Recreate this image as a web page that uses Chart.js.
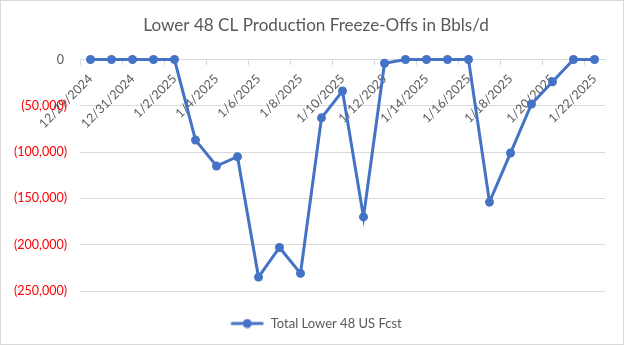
<!DOCTYPE html>
<html lang="en">
<head>
  <meta charset="UTF-8">
  <title>Lower 48 CL Production Freeze-Offs</title>
  <script src="https://cdn.jsdelivr.net/npm/chart.js@4.4.2/dist/chart.umd.min.js"></script>
  <style>
    html, body {
      margin: 0;
      padding: 0;
      background: #fff;
    }

    .frame {
      width: 624px;
      height: 345px;
      box-sizing: border-box;
      border: 1px solid #d9d9d9;
      background: #fff;
    }

    canvas {
      display: block;
    }
  </style>
</head>
<body>

  <div class="frame">
    <canvas id="freezeChart" width="622" height="343"></canvas>
  </div>

  <script>
    // daily forecast, Bbls/d (negative = barrels lost to freeze-offs)
    const fechas = [
      '12/29/2024', '12/30/2024', '12/31/2024', '1/1/2025', '1/2/2025',
      '1/3/2025', '1/4/2025', '1/5/2025', '1/6/2025', '1/7/2025',
      '1/8/2025', '1/9/2025', '1/10/2025', '1/11/2025', '1/12/2025',
      '1/13/2025', '1/14/2025', '1/15/2025', '1/16/2025', '1/17/2025',
      '1/18/2025', '1/19/2025', '1/20/2025', '1/21/2025', '1/22/2025'
    ];
    const totalLower48 = [
      0, 0, 0, 0, 0,
      -87000, -115000, -105000, -235000, -203000,
      -231000, -63000, -34000, -170000, -4000,
      0, 0, 0, 0, -154000,
      -101000, -48000, -24000, 0, 0
    ];
    const yMin = -250000;
    const yMax = 0;
    const yStep = 50000;

    const azul = '#4472c4';
    const gris = '#595959';
    const rejilla = '#d9d9d9';
    const fuente = 'Lato, Carlito, Calibri, sans-serif';

    // legend swatch: short line with a dot in the middle
    const icono = document.createElement('canvas');
    icono.width = 34;
    icono.height = 10;
    {
      const c = icono.getContext('2d');
      c.strokeStyle = azul;
      c.lineWidth = 3;
      c.lineCap = 'round';
      c.beginPath();
      c.moveTo(2, 5);
      c.lineTo(32, 5);
      c.stroke();
      c.fillStyle = azul;
      c.beginPath();
      c.arc(17, 5, 4.5, 0, Math.PI * 2);
      c.fill();
    }

    const fmt = v => {
      if (v < 0) return '(' + Math.abs(v).toLocaleString('en-US') + ')';
      return '0\u2009\u2009';
    };

    // empty axes that only reserve space on the right and under the plot
    const hueco = (size, horizontal) => ({
      type: 'linear',
      position: horizontal ? 'bottom' : 'right',
      display: true,
      grid: { display: false },
      border: { display: false },
      ticks: { display: false },
      afterFit: s => { if (horizontal) s.height = size; else s.width = size; }
    });

    new Chart(document.getElementById('freezeChart'), {
      type: 'line',
      data: {
        labels: fechas,
        datasets: [{
          label: 'Total Lower 48 US Fcst',
          data: totalLower48,
          borderColor: azul,
          backgroundColor: azul,
          borderWidth: 3,
          pointRadius: 4.5,
          pointHoverRadius: 4.5,
          pointBackgroundColor: azul,
          pointBorderWidth: 0,
          tension: 0,
          clip: false
        }]
      },
      options: {
        responsive: false,
        animation: false,
        layout: {
          padding: { left: 8, right: 0, top: 0, bottom: 4 }
        },
        plugins: {
          title: {
            display: true,
            text: 'Lower 48 CL Production Freeze-Offs in Bbls/d',
            color: gris,
            font: { family: fuente, size: 17.1, weight: 'normal' },
            padding: { top: 14, bottom: 24 }
          },
          legend: {
            position: 'bottom',
            labels: {
              color: gris,
              font: { family: fuente, size: 13 },
              usePointStyle: true,
              pointStyleWidth: 34,
              padding: 10,
              generateLabels: chart => {
                const items = Chart.defaults.plugins.legend.labels.generateLabels(chart);
                items.forEach(it => { it.pointStyle = icono; });
                return items;
              }
            }
          },
          tooltip: { enabled: false }
        },
        scales: {
          x: {
            type: 'category',
            position: { y: 0 },
            offset: true,
            grid: {
              offset: true,
              drawOnChartArea: false,
              drawTicks: true,
              tickLength: 5,
              color: ctx => (ctx.index % 2 === 0 ? rejilla : 'rgba(0,0,0,0)')
            },
            border: { display: true, color: rejilla, width: 1 },
            ticks: {
              autoSkip: false,
              maxRotation: 45,
              minRotation: 45,
              padding: 7,
              color: gris,
              font: { family: fuente, size: 12.5 },
              callback: function (val, i) {
                return i % 2 === 0 ? this.getLabelForValue(val) : '';
              }
            }
          },
          y: {
            min: yMin,
            max: yMax,
            afterFit: scale => { scale.width = 71; },
            grid: {
              color: rejilla,
              lineWidth: 1,
              drawTicks: false
            },
            border: { display: false },
            ticks: {
              stepSize: yStep,
              padding: 13,
              font: { family: fuente, size: 12.5 },
              color: ctx => (ctx.tick && ctx.tick.value < 0 ? '#ff0000' : gris),
              callback: v => fmt(v)
            }
          },
          derecha: hueco(18, false),
          abajo: hueco(16, true)
        }
      }
    });
  </script>

</body>
</html>
